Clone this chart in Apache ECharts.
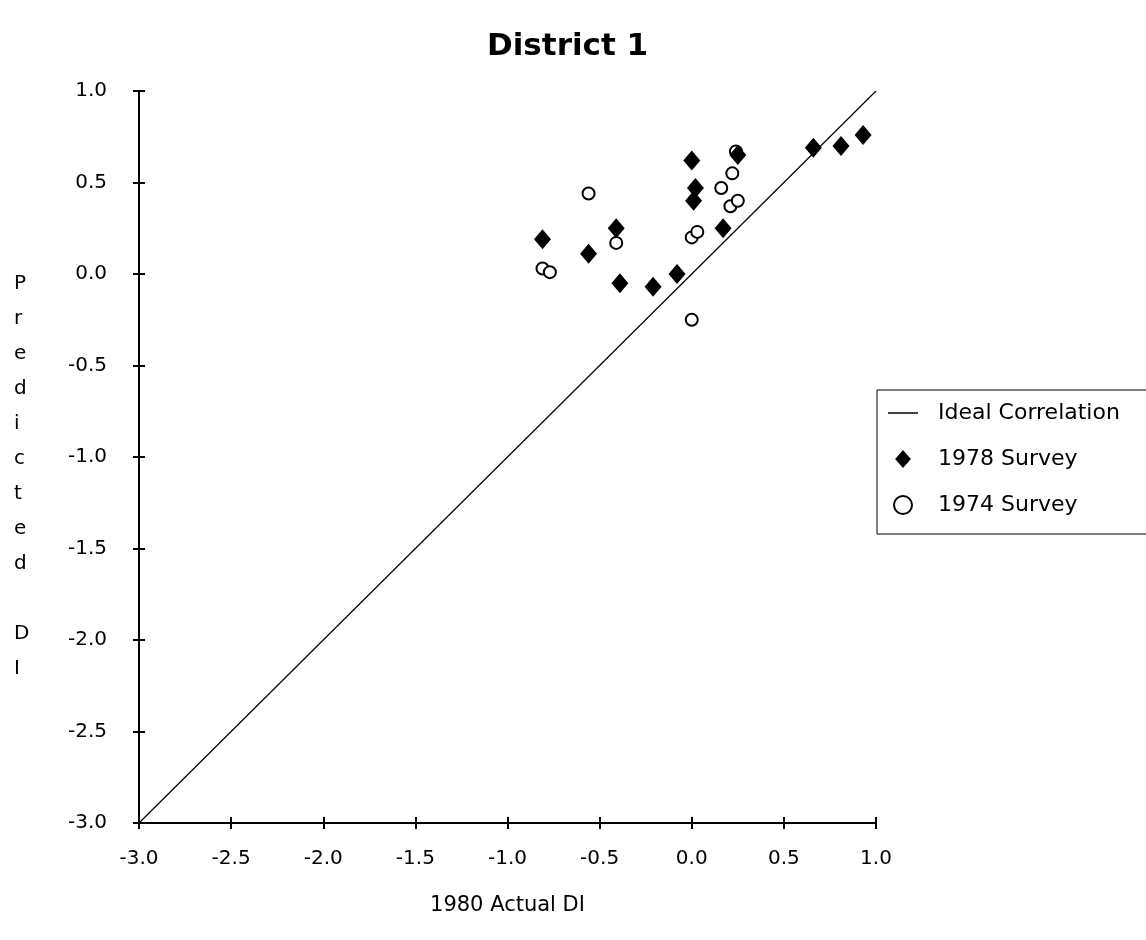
<!DOCTYPE html>
<html>
<head>
<meta charset="utf-8">
<title>District 1</title>
<script src="https://cdn.jsdelivr.net/npm/echarts@6/dist/echarts.min.js"></script>
<style>
    html, body { margin: 0; padding: 0; background: #fff; }
    #chart { width: 1146px; height: 940px; }
</style>
</head>
<body>
<div id="chart"></div>
<script>
// values: [1980 actual DI, predicted DI]
const survey1978 = [
    [-0.81, 0.19], [-0.56, 0.11], [-0.41, 0.25], [-0.39, -0.05],
    [-0.21, -0.07], [-0.08, 0.00], [0.00, 0.62], [0.02, 0.47],
    [0.01, 0.40], [0.17, 0.25], [0.25, 0.65], [0.66, 0.69],
    [0.81, 0.70], [0.93, 0.76]
];
const survey1974 = [
    [-0.56, 0.44], [-0.81, 0.03], [-0.77, 0.01], [-0.41, 0.17],
    [0.00, 0.20], [0.03, 0.23], [0.16, 0.47], [0.22, 0.55],
    [0.21, 0.37], [0.25, 0.40], [0.00, -0.25], [0.24, 0.67]
];
const idealLine = [[-3, -3], [1, 1]];
const axisMin = -3;
const axisMax = 1;
const axisStep = 0.5;

const seriesNames = ['Ideal Correlation', '1978 Survey', '1974 Survey'];
const yTitle = 'Predicted DI';

const FONT = 'DejaVu Sans';

function tickLabel(margin) {
    return {
        color: '#000',
        fontFamily: FONT,
        fontSize: 20,
        margin: margin,
        formatter: v => v.toFixed(1)
    };
}

function valueAxis(extra) {
    let axis = {
        type: 'value',
        min: axisMin,
        max: axisMax,
        interval: axisStep,
        splitLine: {show: false},
        axisLine: {onZero: false, lineStyle: {color: '#000', width: 2}},
        axisTick: {length: 6, lineStyle: {color: '#000', width: 2}},
        axisLabel: tickLabel(8)
    };
    return Object.assign(axis, extra);
}

// second copy of each axis only draws the inner half of the cross ticks
function innerAxis(extra) {
    return valueAxis(Object.assign({
        axisLine: {show: false, onZero: false},
        axisLabel: {show: false},
        axisTick: {inside: true, length: 6, lineStyle: {color: '#000', width: 2}}
    }, extra));
}

// stack the y title letter by letter, words split by a blank line
let yTitleText = yTitle.replace(' ', '\n').split('').join('\n').replace('\n\n\n', '\n\n');

let chart = echarts.init(document.getElementById('chart'));
chart.setOption({
    animation: false,
    backgroundColor: '#fff',
    title: {
        text: 'District 1',
        left: 482,
        top: 26,
        textStyle: {fontFamily: FONT, fontSize: 31, fontWeight: 'bold', color: '#000'}
    },
    grid: {left: 139, right: 270, top: 91, bottom: 117},
    xAxis: [
        valueAxis({
            name: '1980 Actual DI',
            nameLocation: 'middle',
            nameGap: 72,
            nameTextStyle: {fontFamily: FONT, fontSize: 21, color: '#000'},
            axisLabel: tickLabel(26)
        }),
        innerAxis({position: 'bottom'})
    ],
    yAxis: [
        valueAxis({axisLabel: tickLabel(32)}),
        innerAxis({position: 'left'})
    ],
    graphic: [{
        type: 'text',
        left: 14,
        top: 266,
        style: {
            text: yTitleText,
            font: '20px ' + FONT,
            lineHeight: 35,
            fill: '#000',
            align: 'left'
        }
    }],
    legend: {
        orient: 'vertical',
        left: 877,
        top: 390,
        padding: [12, 60, 18, 11],
        itemWidth: 30,
        itemHeight: 18,
        itemGap: 24,
        symbolKeepAspect: true,
        borderColor: '#000',
        borderWidth: 1,
        backgroundColor: '#fff',
        textStyle: {fontFamily: FONT, fontSize: 22, color: '#000', padding: [0, 0, 0, 15]},
        data: [
            {name: seriesNames[0], icon: 'path://M0,0h30v1.5h-30z', itemStyle: {color: '#000'}},
            {name: seriesNames[1], icon: 'path://M7,0L14,8L7,16L0,8Z'},
            {name: seriesNames[2], icon: 'circle'}
        ]
    },
    series: [
        {
            name: seriesNames[0],
            type: 'line',
            data: idealLine,
            symbol: 'none',
            silent: true,
            z: 1,
            itemStyle: {color: '#000'},
            lineStyle: {color: '#000', width: 1.2}
        },
        {
            name: seriesNames[2],
            type: 'scatter',
            data: survey1974,
            symbol: 'circle',
            symbolSize: 12,
            z: 2,
            itemStyle: {color: '#fff', borderColor: '#000', borderWidth: 2, opacity: 1}
        },
        {
            name: seriesNames[1],
            type: 'scatter',
            data: survey1978,
            symbol: 'diamond',
            symbolSize: [17, 20],
            z: 3,
            itemStyle: {color: '#000', opacity: 1}
        }
    ]
});
</script>
</body>
</html>
